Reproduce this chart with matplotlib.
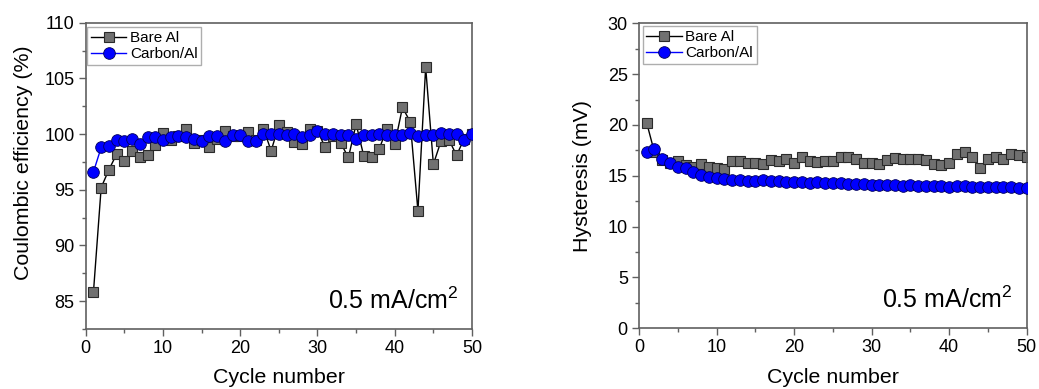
import numpy as np
import matplotlib
matplotlib.use("Agg")
import matplotlib.pyplot as plt

plt.rcParams['font.family'] = ['Liberation Sans', 'DejaVu Sans']
plt.rcParams['mathtext.fontset'] = 'custom'
plt.rcParams['mathtext.rm'] = 'Liberation Sans'
plt.rcParams['mathtext.default'] = 'rm'

cycles = list(range(1, 51))

ce_bare = [85.8, 95.2, 96.8, 98.2, 97.6, 98.5, 97.9, 98.1, 99.0, 100.1,
           99.5, 99.8, 100.5, 99.2, 99.5, 98.8, 99.6, 100.3, 99.8, 99.8,
           100.2, 99.5, 100.5, 98.5, 100.8, 100.2, 99.3, 99.1, 100.5, 100.3,
           98.8, 99.8, 99.2, 97.9, 100.9, 98.0, 97.9, 98.7, 100.5, 99.1,
           102.4, 101.1, 93.1, 106.0, 97.3, 99.4, 99.5, 98.1, 99.6, 100.0]
ce_carbon = [96.6, 98.8, 98.9, 99.5, 99.4, 99.6, 99.1, 99.7, 99.7, 99.5,
             99.7, 99.8, 99.7, 99.6, 99.4, 99.8, 99.8, 99.4, 99.9, 99.9,
             99.4, 99.4, 100.0, 100.0, 100.0, 99.9, 100.0, 99.7, 99.9, 100.3,
             100.0, 100.0, 99.9, 99.9, 99.6, 99.9, 99.9, 100.0, 99.9, 99.9,
             99.9, 100.1, 99.8, 99.9, 99.9, 100.1, 100.0, 100.0, 99.5, 100.0]

hys_bare = [20.2, 17.3, 16.6, 16.3, 16.5, 16.1, 15.9, 16.2, 15.9, 15.8,
            15.7, 16.5, 16.5, 16.3, 16.3, 16.2, 16.6, 16.5, 16.7, 16.3,
            16.9, 16.5, 16.4, 16.5, 16.5, 16.9, 16.9, 16.7, 16.3, 16.3,
            16.2, 16.6, 16.8, 16.7, 16.7, 16.7, 16.6, 16.2, 16.1, 16.3,
            17.1, 17.3, 16.9, 15.8, 16.7, 16.9, 16.7, 17.1, 17.0, 16.9]
hys_carbon = [17.3, 17.6, 16.7, 16.3, 15.9, 15.8, 15.4, 15.1, 14.9, 14.8,
              14.7, 14.6, 14.6, 14.5, 14.5, 14.6, 14.5, 14.5, 14.4, 14.4,
              14.4, 14.3, 14.4, 14.3, 14.3, 14.3, 14.2, 14.2, 14.2, 14.1,
              14.1, 14.1, 14.1, 14.0, 14.1, 14.0, 14.0, 14.0, 14.0, 13.9,
              14.0, 14.0, 13.9, 13.9, 13.9, 13.9, 13.9, 13.9, 13.8, 13.8]

labels = ['Bare Al', 'Carbon/Al']
spine_col = '#606060'

fig = plt.figure(figsize=(10.39, 3.89), dpi=100)
ax1 = fig.add_axes([0.0825, 0.1542, 0.3718, 0.7874])
ax2 = fig.add_axes([0.615, 0.156, 0.3731, 0.784])


def style(ax, ybare, ycarbon, ylim, yticks, yminor, ylabel, label_xy, legend_anchor):
    ax.plot(cycles, ybare, color='black', lw=1.0,
            marker='s', ms=7.4, mfc='#707070', mec='#2a2a2a', mew=0.8,
            label=labels[0], zorder=2)
    ax.plot(cycles, ycarbon, color='#0000ff', lw=1.0,
            marker='o', ms=8.4, mfc='#0000ff', mec='#00005a', mew=0.6,
            label=labels[1], zorder=3)
    ax.set_xlim(0, 50)
    ax.set_ylim(*ylim)
    ax.set_xticks([0, 10, 20, 30, 40, 50])
    ax.set_xticks([5, 15, 25, 35, 45], minor=True)
    ax.set_yticks(yticks)
    ax.set_yticks(yminor, minor=True)
    ax.tick_params(which='major', direction='out', length=5, width=1,
                   color=spine_col, labelsize=13, top=False, right=False, pad=3)
    ax.tick_params(which='minor', direction='out', length=3, width=1,
                   color=spine_col, top=False, right=False)
    for s in ax.spines.values():
        s.set_color(spine_col)
        s.set_linewidth(1.2)
    ax.set_xlabel('Cycle number', fontsize=15.4, labelpad=8)
    ax.set_ylabel(ylabel, fontsize=15.4)
    ax.yaxis.set_label_coords(*label_xy)
    ax.text(0.964, 0.05, '0.5 mA/cm$^{2}$', transform=ax.transAxes,
            ha='right', va='bottom', fontsize=18)
    leg = ax.legend(loc='upper left', bbox_to_anchor=legend_anchor,
                    borderaxespad=0, fontsize=11, frameon=True, fancybox=False,
                    edgecolor='#9a9a9a', labelspacing=0.15, borderpad=0.25,
                    handlelength=2.3, handletextpad=0.25)
    leg.get_frame().set_linewidth(1.0)


style(ax1, ce_bare, ce_carbon, (82.5, 110), [85, 90, 95, 100, 105, 110],
      [82.5, 87.5, 92.5, 97.5, 102.5, 107.5], 'Coulombic efficiency (%)',
      (-0.137, 0.544), (0.004, 0.985))
style(ax2, hys_bare, hys_carbon, (0, 30), [0, 5, 10, 15, 20, 25, 30],
      [2.5, 7.5, 12.5, 17.5, 22.5, 27.5], 'Hysteresis (mV)',
      (-0.122, 0.5), (0.0095, 0.991))

fig.savefig('out.png', dpi=100)
